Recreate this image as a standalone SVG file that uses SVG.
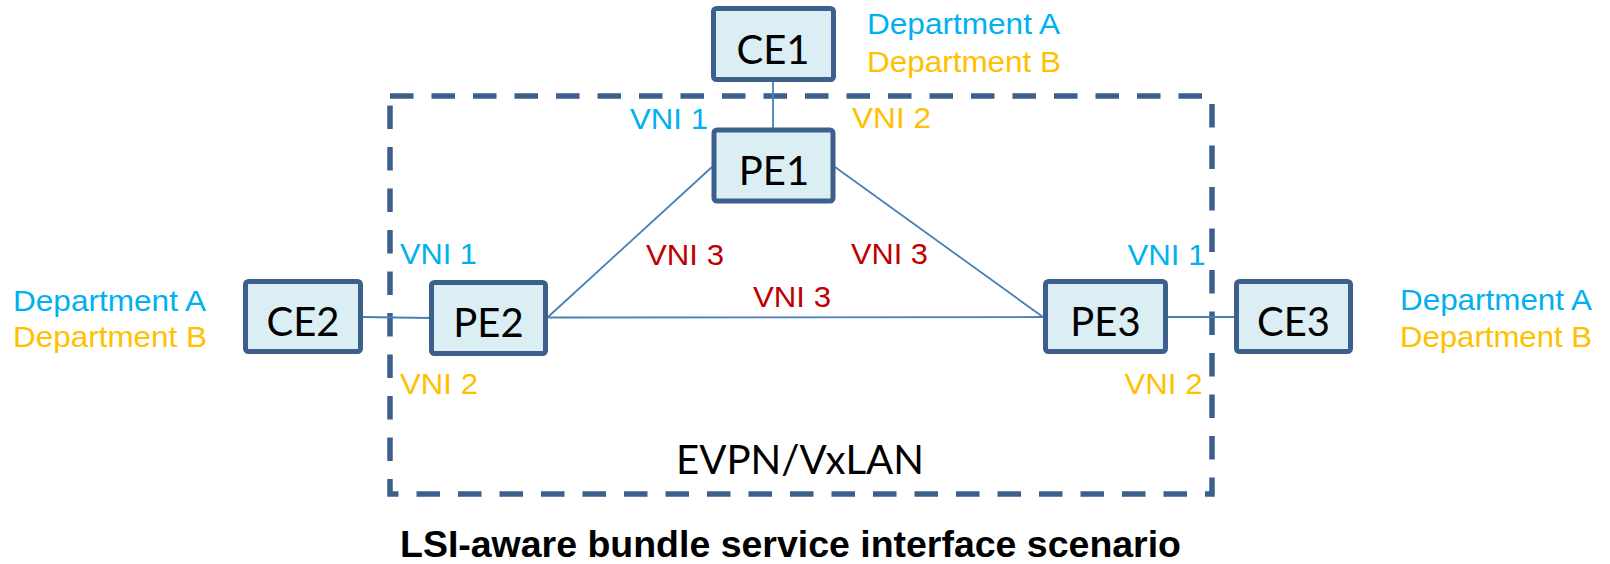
<svg xmlns="http://www.w3.org/2000/svg" width="1610" height="564" viewBox="0 0 1610 564">
<style>
.box{fill:#DBEEF4;stroke:#3C5F8C;stroke-width:5}
.lbl{font-family:Lato,"Open Sans",sans-serif;font-size:40px;fill:#000;text-anchor:middle}
.conn{stroke:#4A7EBB;stroke-width:1.8;fill:none}
.t{font-family:"Liberation Sans",Arial,sans-serif;font-size:29.5px}
.v{font-family:"Liberation Sans",Arial,sans-serif;font-size:29px}
.blue{fill:#00B0F0}
.gold{fill:#FFC000}
.red{fill:#C00000}
</style>
<rect width="1610" height="564" fill="#fff"/>
<g id="cloud">
<rect x="390" y="96" width="822" height="398" fill="none" stroke="#3C5F8C" stroke-width="5.5" stroke-dasharray="23.5 18"/>
<text x="800" y="474" class="lbl" textLength="248" lengthAdjust="spacingAndGlyphs">EVPN/VxLAN</text>
</g>
<g id="connectors">
<line class="conn" x1="773" y1="81" x2="773" y2="129"/>
<line class="conn" x1="712" y1="167" x2="548" y2="317"/>
<line class="conn" x1="835" y1="167" x2="1043" y2="317"/>
<line class="conn" x1="548" y1="317.5" x2="1043" y2="317"/>
<line class="conn" x1="362" y1="317" x2="430" y2="318"/>
<line class="conn" x1="1167" y1="317" x2="1235" y2="317"/>
</g>
<g id="CE1">
<rect class="box" x="713.5" y="8.5" width="120" height="71" rx="3"/>
<text x="773" y="64" class="lbl">CE1</text>
</g>
<g id="PE1">
<rect class="box" x="714" y="130" width="119" height="71" rx="3"/>
<text x="774" y="185" class="lbl">PE1</text>
</g>
<g id="CE2">
<rect class="box" x="245.5" y="281.5" width="115" height="70" rx="3"/>
<text x="303" y="336" class="lbl">CE2</text>
</g>
<g id="PE2">
<rect class="box" x="431.5" y="282.5" width="114" height="71" rx="3"/>
<text x="488.5" y="337" class="lbl">PE2</text>
</g>
<g id="PE3">
<rect class="box" x="1045.5" y="281.5" width="120" height="70" rx="3"/>
<text x="1105.5" y="336" class="lbl">PE3</text>
</g>
<g id="CE3">
<rect class="box" x="1236.5" y="281.5" width="114" height="70" rx="3"/>
<text x="1293.5" y="336" class="lbl">CE3</text>
</g>
<g id="labels">
<text class="t blue" x="867" y="34" textLength="193" lengthAdjust="spacingAndGlyphs">Department A</text>
<text class="t gold" x="867" y="71.5" textLength="194" lengthAdjust="spacingAndGlyphs">Department B</text>
<text class="t blue" x="13" y="310.5" textLength="193" lengthAdjust="spacingAndGlyphs">Department A</text>
<text class="t gold" x="13" y="347" textLength="194" lengthAdjust="spacingAndGlyphs">Department B</text>
<text class="t blue" x="1400" y="309.5" textLength="192" lengthAdjust="spacingAndGlyphs">Department A</text>
<text class="t gold" x="1400" y="346.5" textLength="192" lengthAdjust="spacingAndGlyphs">Department B</text>
<text class="v blue" x="630" y="128.5" textLength="78" lengthAdjust="spacingAndGlyphs">VNI 1</text>
<text class="v gold" x="852" y="128" textLength="79" lengthAdjust="spacingAndGlyphs">VNI 2</text>
<text class="v blue" x="400" y="264" textLength="77" lengthAdjust="spacingAndGlyphs">VNI 1</text>
<text class="v gold" x="400" y="394" textLength="78" lengthAdjust="spacingAndGlyphs">VNI 2</text>
<text class="v blue" x="1127.5" y="265" textLength="78" lengthAdjust="spacingAndGlyphs">VNI 1</text>
<text class="v gold" x="1124.5" y="393.5" textLength="78" lengthAdjust="spacingAndGlyphs">VNI 2</text>
<text class="v red" x="646" y="265" textLength="78" lengthAdjust="spacingAndGlyphs">VNI 3</text>
<text class="v red" x="851" y="264" textLength="77" lengthAdjust="spacingAndGlyphs">VNI 3</text>
<text class="v red" x="753" y="306.5" textLength="78" lengthAdjust="spacingAndGlyphs">VNI 3</text>
</g>
<text x="400" y="557" font-family="'Liberation Sans',Arial,sans-serif" font-weight="bold" font-size="37" textLength="781" lengthAdjust="spacingAndGlyphs">LSI-aware bundle service interface scenario</text>
</svg>
